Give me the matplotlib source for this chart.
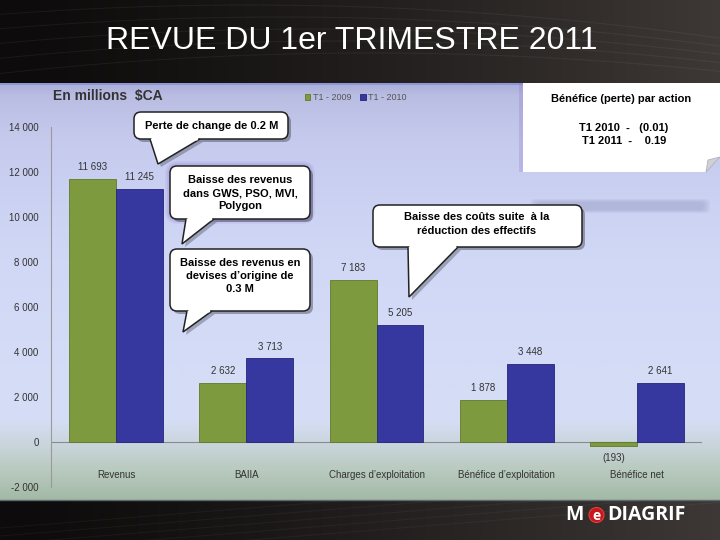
import numpy as np
import matplotlib
matplotlib.use("Agg")
import matplotlib.pyplot as plt
from matplotlib.patches import FancyBboxPatch, Polygon, Rectangle, Circle
from matplotlib.colors import to_rgb

plt.rcParams['font.family'] = ['Liberation Sans', 'DejaVu Sans']

# ---------------- data ----------------
categories = ["Revenus", "BAIIA", "Charges d'exploitation", "Bénéfice d'exploitation", "Bénéfice net"]
series_names = ["T1 - 2009", "T1 - 2010"]
values_2009 = [11693, 2632, 7183, 1878, -193]
values_2010 = [11245, 3713, 5205, 3448, 2641]
yticks = [-2000, 0, 2000, 4000, 6000, 8000, 10000, 12000, 14000]

GREEN = "#7d9a3f"
BLUE = "#3737a0"

def fmt(v):
    s = f"{abs(v):,}".replace(",", " ")
    return f"({s})" if v < 0 else s

fig = plt.figure(figsize=(7.2, 5.4), dpi=100)

# ---------------- background ----------------
bg = fig.add_axes([0, 0, 1, 1], zorder=0)
bg.set_xlim(0, 720); bg.set_ylim(540, 0); bg.axis('off')

H, W = 540, 720
yy, xx = np.mgrid[0:H, 0:W]
t = np.clip((xx / W) ** 1.3 * 0.8, 0, 1)
dark = np.array(to_rgb("#0d0b0b")); light = np.array(to_rgb("#4a4441"))
img = dark[None, None, :] * (1 - t[..., None]) + light[None, None, :] * t[..., None]
bg.imshow(img, extent=[0, 720, 540, 0], aspect='auto', zorder=0)
# faint texture lines
xs = np.linspace(0, 720, 200)
for k in range(5):
    bg.plot(xs, 5 + k * 12 + 0.0003 * (xs - 250 - k * 30) ** 2 * 0.5,
            color="white", alpha=0.05, lw=0.8, zorder=0.5)
    bg.plot(xs, 560 - xs * 0.08 - k * 8, color="white", alpha=0.04, lw=0.8, zorder=0.5)

# chart panel gradient
stops = [(83, "#a9aedb"), (95, "#b9bde2"), (140, "#c6cbee"), (260, "#d1d8f6"),
         (420, "#d6def6"), (445, "#c9d5dc"), (470, "#b9cabf"), (500, "#a3b9a6")]
ys = np.arange(83, 501)
cols = np.zeros((len(ys), 3))
sy = [s[0] for s in stops]
for c in range(3):
    cols[:, c] = np.interp(ys, sy, [to_rgb(s[1])[c] for s in stops])
panel = np.repeat(cols[:, None, :], 2, axis=1)
bg.imshow(panel, extent=[0, 720, 500, 83], aspect='auto', zorder=1)
bg.plot([0, 720], [83.5, 83.5], color="#8a92d0", lw=1.2, zorder=1.2)
bg.plot([0, 720], [500, 500], color="#5a6a70", lw=1.0, zorder=1.2)
# soft blurry band
for d, a in [(0, 0.10), (2, 0.10), (4, 0.10), (6, 0.08)]:
    bg.add_patch(FancyBboxPatch((530 + d, 199 + d / 2), 180 - 2 * d, 14 - d,
                                boxstyle="round,pad=0,rounding_size=5",
                                fc="#8088b0", ec="none", alpha=a, zorder=1.1))

# title
bg.text(352, 41, "REVUE DU 1er TRIMESTRE 2011", color="white", fontsize=23,
        ha="center", va="center", zorder=3)

# logo
bg.text(574, 515, "M", color="white", fontsize=14, fontweight="bold",
        family="Open Sans", ha="center", va="center", zorder=3)
bg.add_patch(Circle((596.5, 515), 7.5, fc="#c8161d", ec="#e04040", lw=0.8, zorder=3))
bg.text(596.5, 515.5, "e", color="white", fontsize=10, fontweight="bold",
        family="Open Sans", ha="center", va="center", zorder=4)
bg.text(607, 515, "DIAGRIF", color="white", fontsize=14, fontweight="bold",
        family="Open Sans", ha="left", va="center", zorder=3)

# ---------------- chart ----------------
ax = fig.add_axes([51 / 720, 53 / 540, 651 / 720, 360 / 540], zorder=1)
ax.set_facecolor("none")
x = np.arange(len(categories))
bw = 0.36
b1 = ax.bar(x - bw / 2, values_2009, bw, color=GREEN, edgecolor="#5f7a2a", lw=0.6,
            label=series_names[0], zorder=2)
b2 = ax.bar(x + bw / 2, values_2010, bw, color=BLUE, edgecolor="#25257a", lw=0.6,
            label=series_names[1], zorder=2)
ax.set_xlim(-0.5, len(categories) - 0.5)
ax.set_ylim(-2000, 14000)
ax.set_yticks(yticks)
ax.set_yticklabels([fmt(v) if v >= 0 else "-" + fmt(-v) for v in yticks],
                   fontsize=7, color="#333333")
ax.tick_params(axis='y', length=0, pad=9)
ax.set_xticks([])
for s in ["top", "right", "bottom"]:
    ax.spines[s].set_visible(False)
ax.spines["left"].set_color("#9a9a9a")
ax.spines["left"].set_linewidth(0.8)
ax.axhline(0, color="#8a8a8a", lw=0.8, zorder=1)

for bars, vals in [(b1, values_2009), (b2, values_2010)]:
    for r, v in zip(bars, vals):
        cx = r.get_x() + r.get_width() / 2
        if v >= 0:
            ax.annotate(fmt(v), (cx, v), xytext=(0, 5), textcoords="offset points",
                        ha="center", va="bottom", fontsize=7, color="#333333")
        else:
            ax.annotate(fmt(v), (cx, v), xytext=(0, -5), textcoords="offset points",
                        ha="center", va="top", fontsize=7, color="#333333")

for xi, c in zip(x, categories):
    ax.text(xi, -1470, c.replace("'", "’"), ha="center", va="center", fontsize=7, color="#333333")

leg = ax.legend(loc="center left", bbox_to_anchor=(250 / 651, (487 - 98) / 360),
                ncol=2, frameon=False, fontsize=6.5, handlelength=0.6, handleheight=0.6,
                handletextpad=0.3, columnspacing=1.0, borderaxespad=0)
for tx in leg.get_texts():
    tx.set_color("#555555")

bg.text(53, 96, "En millions  $CA", fontsize=10, fontweight="bold", color="#333333",
        ha="left", va="center", zorder=3)

# ---------------- overlay callouts ----------------
ov = fig.add_axes([0, 0, 1, 1], zorder=3)
ov.set_xlim(0, 720); ov.set_ylim(540, 0); ov.axis('off')
ov.set_facecolor("none")

def callout(x0, y0, x1, y1, base, tip, text, cx, cy, glow=False):
    w, h = x1 - x0, y1 - y0
    if glow:
        for lw, a in [(7, 0.12), (4, 0.2)]:
            ov.add_patch(FancyBboxPatch((x0, y0), w, h, boxstyle="round,pad=0,rounding_size=7",
                                        fc="none", ec="#8870c8", lw=lw, alpha=a, zorder=1))
    ov.add_patch(FancyBboxPatch((x0 + 3, y0 + 3), w, h, boxstyle="round,pad=0,rounding_size=7",
                                fc="#000000", ec="none", alpha=0.3, zorder=1))
    ov.add_patch(Polygon([(base[0] + 3, y1 + 3), (tip[0] + 3, tip[1] + 3), (base[1] + 3, y1 + 3)],
                         closed=True, fc="#000000", ec="none", alpha=0.25, zorder=1))
    ov.add_patch(FancyBboxPatch((x0, y0), w, h, boxstyle="round,pad=0,rounding_size=7",
                                fc="white", ec="#222222", lw=1.1, zorder=2))
    ov.add_patch(Polygon([(base[0], y1), tip, (base[1], y1)], closed=False,
                         fc="white", ec="#222222", lw=1.1, zorder=3, joinstyle="miter"))
    ov.add_patch(Polygon([(base[0] + 1.3, y1 - 2), (base[1] - 1.3, y1 - 2),
                          (base[1] - 2.5, y1 + 1.5), (base[0] + 1.6, y1 + 1.5)],
                         closed=True, fc="white", ec="none", zorder=4))
    ov.text(cx, cy, text, ha="center", va="center", fontsize=8, fontweight="bold",
            color="black", linespacing=1.4, zorder=5)

callout(134, 112, 288, 139, (150, 200), (158, 164), "Perte de change de 0.2 M", 212, 126)
callout(170, 166, 310, 219, (186, 214), (182, 244),
        "Baisse des revenus\ndans GWS, PSO, MVI,\nPolygon", 240, 193, glow=True)
callout(170, 249, 310, 311, (187, 212), (183, 332),
        "Baisse des revenus en\ndevises d’origine de\n0.3 M", 240, 276)
callout(373, 205, 582, 247, (408, 458), (409, 297),
        "Baisse des coûts suite  à la\nréduction des effectifs", 477, 224)

# top-right EPS box
ov.add_patch(Rectangle((519, 83), 4, 89, fc="#8870c8", ec="none", alpha=0.25, zorder=1))
ov.add_patch(Polygon([(523, 83), (720, 83), (720, 157), (706, 172), (523, 172)],
                     closed=True, fc="white", ec="none", zorder=2))
ov.add_patch(Polygon([(706, 172), (708, 160), (720, 157)], closed=True,
                     fc="#d0d0d8", ec="#b0b0b8", lw=0.6, zorder=3))
ov.text(621, 99, "Bénéfice (perte) par action", ha="center", va="center",
        fontsize=8, fontweight="bold", color="black", zorder=5)
ov.text(624, 128, "T1 2010  -   (0.01)", ha="center", va="center",
        fontsize=8, fontweight="bold", color="black", zorder=5)
ov.text(624, 141, "T1 2011  -    0.19", ha="center", va="center",
        fontsize=8, fontweight="bold", color="black", zorder=5)

fig.savefig("out.png", dpi=100)
